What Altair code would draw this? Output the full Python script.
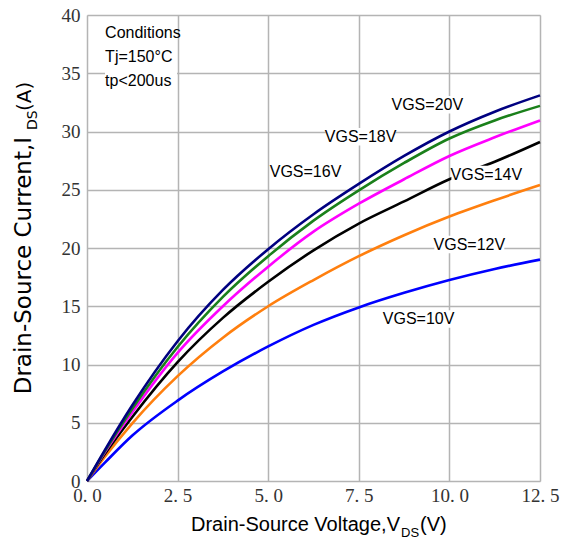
import altair as alt
import pandas as pd

# ---- data ----
vds = [0, 0.5, 1.25, 2.5, 3.75, 5, 6.25, 7.5, 8.75, 10, 11.25, 12.5]
series_names = ["VGS=10V", "VGS=12V", "VGS=14V", "VGS=16V", "VGS=18V", "VGS=20V"]
i_10 = [0, 1.6, 3.9, 6.9, 9.4, 11.55, 13.4, 14.9, 16.15, 17.25, 18.2, 19.0]
i_12 = [0, 2.1, 4.95, 9.0, 12.3, 15.0, 17.25, 19.3, 21.1, 22.7, 24.1, 25.4]
i_14 = [0, 2.35, 5.5, 10.2, 14.0, 17.1, 19.8, 22.1, 24.0, 25.9, 27.4, 29.1]
i_16 = [0, 2.5, 5.9, 11.0, 15.0, 18.4, 21.4, 23.8, 25.9, 27.9, 29.5, 30.95]
i_18 = [0, 2.6, 6.2, 11.5, 15.8, 19.3, 22.35, 24.95, 27.3, 29.4, 30.95, 32.2]
i_20 = [0, 2.7, 6.5, 12.0, 16.4, 19.9, 22.9, 25.5, 27.9, 30.0, 31.7, 33.1]
series_colors = ["#0000ff", "#ff7f0e", "#000000", "#ff00ff", "#1a801a", "#000080"]

label_text = ["VGS=20V", "VGS=18V", "VGS=16V", "VGS=14V", "VGS=12V", "VGS=10V"]
label_x = [9.39, 7.55, 6.03, 11.02, 10.55, 9.15]
label_y = [32.3, 29.55, 26.5, 26.3, 20.3, 13.9]

cond_text = ["Conditions", "Tj=150\u00b0C", "tp<200us"]
cond_x = [0.5, 0.5, 0.5]
cond_y = [38.45, 36.4, 34.35]
cond_box_x = [1.49]
cond_box_y = [36.4]

x_ticks = [0, 2.5, 5, 7.5, 10, 12.5]
y_ticks = [0, 5, 10, 15, 20, 25, 30, 35, 40]

# ---- build tables ----
all_i = [i_10, i_12, i_14, i_16, i_18, i_20]
rows = []
for k, (name, vals) in enumerate(zip(series_names, all_i)):
    for x, y in zip(vds, vals):
        rows.append({"series": name, "order": k, "vds": x, "ids": y})
curves = pd.DataFrame(rows)
labels = pd.DataFrame({"text": label_text, "vds": label_x, "ids": label_y})
cond = pd.DataFrame({"text": cond_text, "vds": cond_x, "ids": cond_y})
cond_box = pd.DataFrame({"vds": cond_box_x, "ids": cond_box_y})

SANS = "Liberation Sans, Arial, sans-serif"
SERIF = "Liberation Serif, DejaVu Serif, serif"

xscale = alt.Scale(domain=[0, 12.5], nice=False, zero=False)
yscale = alt.Scale(domain=[0, 40], nice=False)

xaxis = alt.Axis(values=x_ticks, title=None, ticks=False, domain=False,
                 labelExpr="replace(format(datum.value, '.1f'), '.', '. ')",
                 labelFont=SERIF, labelFontSize=19, labelColor="#333333",
                 labelPadding=5, labelFlush=False, labelOverlap=False,
                 gridColor="#b4b4b4", gridWidth=1.5)
yaxis = alt.Axis(values=y_ticks, title=None, ticks=False, domain=False,
                 format="d", labelFont=SERIF, labelFontSize=19,
                 labelColor="#333333", labelPadding=7, labelOverlap=False,
                 gridColor="#b4b4b4", gridWidth=1.5)

lines = alt.Chart(curves).mark_line(strokeWidth=2.6, interpolate="monotone").encode(
    x=alt.X("vds:Q", scale=xscale, axis=xaxis),
    y=alt.Y("ids:Q", scale=yscale, axis=yaxis),
    color=alt.Color("series:N", scale=alt.Scale(domain=series_names, range=series_colors), legend=None),
    order=alt.Order("order:Q"),
)

box_shape = "M-1,-0.25L1,-0.25L1,0.25L-1,0.25Z"
label_bg = alt.Chart(labels).mark_point(
    shape=box_shape, filled=True, fill="white", stroke=None, opacity=1, size=70 * 70
).encode(x=alt.X("vds:Q", scale=xscale), y=alt.Y("ids:Q", scale=yscale))

label_marks = alt.Chart(labels).mark_text(
    font=SANS, fontSize=16, color="black", align="center", baseline="middle"
).encode(x=alt.X("vds:Q", scale=xscale), y=alt.Y("ids:Q", scale=yscale), text="text:N")

cond_bg = alt.Chart(cond_box).mark_point(
    shape="M-1,-1L1,-1L1,1L-1,1Z", filled=True, fill="white", stroke=None, opacity=1, size=72 * 72
).encode(x=alt.X("vds:Q", scale=xscale), y=alt.Y("ids:Q", scale=yscale))

cond_marks = alt.Chart(cond).mark_text(
    font=SANS, fontSize=16, color="black", align="left", baseline="middle"
).encode(x=alt.X("vds:Q", scale=xscale), y=alt.Y("ids:Q", scale=yscale), text="text:N")

# ---- axis titles with subscripts ----
YF = "DejaVu Sans, Verdana, sans-serif"
ytitle_main = alt.Chart(pd.DataFrame({"t": ["Drain-Source Current,I"]})).mark_text(
    font=YF, fontSize=23, angle=270, align="right", baseline="alphabetic", color="black"
).encode(x=alt.value(-56), y=alt.value(122), text="t:N")
ytitle_sub = alt.Chart(pd.DataFrame({"t": ["DS"]})).mark_text(
    font=YF, fontSize=14, angle=270, align="left", baseline="alphabetic", color="black"
).encode(x=alt.value(-50), y=alt.value(115), text="t:N")
ytitle_end = alt.Chart(pd.DataFrame({"t": ["(A)"]})).mark_text(
    font=YF, fontSize=20, angle=270, align="left", baseline="alphabetic", color="black"
).encode(x=alt.value(-56), y=alt.value(96), text="t:N")

xtitle_main = alt.Chart(pd.DataFrame({"t": ["Drain-Source Voltage,V"]})).mark_text(
    font=SANS, fontSize=20, align="right", baseline="alphabetic", color="black"
).encode(x=alt.value(313), y=alt.value(516), text="t:N")
xtitle_sub = alt.Chart(pd.DataFrame({"t": ["DS"]})).mark_text(
    font=SANS, fontSize=13, align="left", baseline="alphabetic", color="black"
).encode(x=alt.value(314), y=alt.value(522), text="t:N")
xtitle_end = alt.Chart(pd.DataFrame({"t": ["(V)"]})).mark_text(
    font=SANS, fontSize=20, align="left", baseline="alphabetic", color="black"
).encode(x=alt.value(333), y=alt.value(516), text="t:N")

chart = alt.layer(
    lines, label_bg, label_marks, cond_bg, cond_marks,
    ytitle_main, ytitle_sub, ytitle_end, xtitle_main, xtitle_sub, xtitle_end,
).properties(
    width=453, height=466,
    autosize=alt.AutoSizeParams(type="none"),
    padding={"left": 79, "top": 7, "right": 20, "bottom": 58},
).configure_view(
    stroke="black", strokeWidth=2.5
).configure(background="white")

chart.save("out.html", embed_options={"renderer": "svg", "actions": False})
